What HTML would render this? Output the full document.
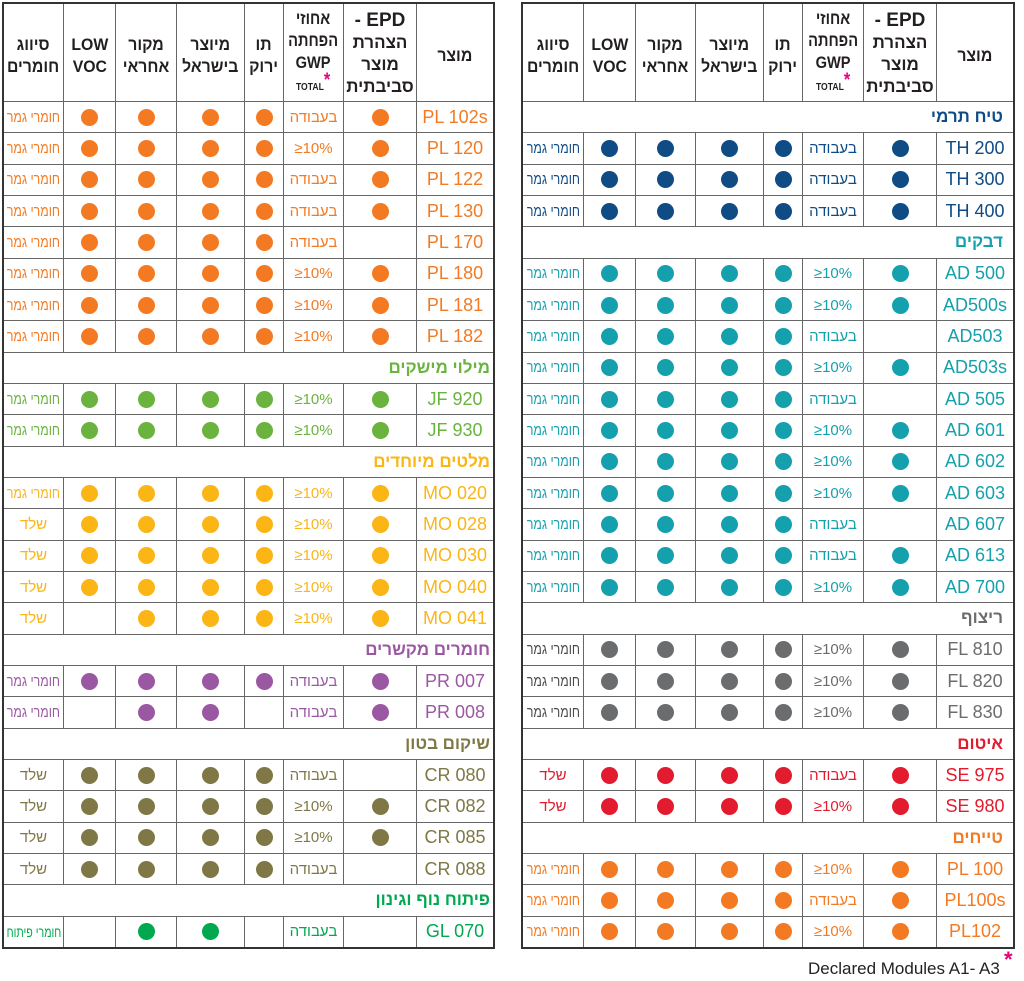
<!DOCTYPE html>
<html lang="he">
<head>
<meta charset="utf-8">
<style>
html,body{margin:0;padding:0}
body{width:1024px;height:981px;background:#fff;position:relative;overflow:hidden;font-family:"Liberation Sans","DejaVu Sans",sans-serif;}
.tb{position:absolute;top:2px;height:947px;box-sizing:border-box;border:2px solid #333;background:#666;display:grid;gap:1px;direction:rtl;grid-template-rows:97px repeat(27,1fr);}
#L{left:2px;width:493px;grid-template-columns:76px 72px 59px 38px 67px 60px 51px 59px;}
#R{left:521px;width:494px;grid-template-columns:76px 72px 60px 38px 67px 59px 51px 60px;}
.tb div{background:#fff;display:flex;align-items:center;justify-content:center;text-align:center;white-space:nowrap;overflow:hidden;}
.tb .g{display:contents}
.h{font-weight:bold;font-size:17px;line-height:22px;color:#231f20;}
.h>span{display:inline-block;transform:scaleX(.93);position:relative;top:3px}
.h.gwp>span{transform:scaleX(.86);top:1px}
.h.ep>span{transform:none;top:1px}
.epd{font-size:19px}
.tot{font-size:10px;font-weight:bold}
.ast{color:#e5007d;font-size:19px;position:relative;top:-4px;line-height:0}
.pn{font-size:18px}
.gw{font-size:15px}
.ltr{direction:ltr}
.cl{font-size:15px}
.cl>span{display:inline-block;transform:scaleX(.82)}
.cl.pt>span{font-size:14px;transform:scaleX(.76)}
.sh{font-size:15px}
.tb .cat{grid-column:1/-1;justify-content:flex-start;font-weight:bold;font-size:17px;padding-right:3px}
#R .cat{padding-right:10px}
i{display:block;width:17px;height:17px;border-radius:50%;background:currentColor}
.o{color:#f37a22}
.lg{color:#6ab33e}
.y{color:#fbb515}
.p{color:#9b58a2}
.ol{color:#7f7745}
.gn{color:#00a84f}
.nv{color:#0f4b84}
.t{color:#15a0ad}
.gr{color:#6b6c6e}
.r{color:#e21b2e}
.gr .cl{color:#4a4a4a}
.ft{position:absolute;left:808px;top:960px;font-size:17px;line-height:17px;color:#222;white-space:nowrap}
.fa{position:absolute;left:1004px;top:949px;font-size:22px;font-weight:bold;color:#e5007d;line-height:22px}
</style>
</head>
<body>

<div class="tb" id="L">
<div class="h"><span>מוצר</span></div>
<div class="h ep"><span><span class="epd">EPD -</span><br>הצהרת<br>מוצר<br>סביבתית</span></div>
<div class="h gwp"><span>אחוזי<br>הפחתה<br>GWP<br><span dir="ltr"><span class="tot">TOTAL</span><span class="ast">*</span></span></span></div>
<div class="h"><span>תו<br>ירוק</span></div>
<div class="h"><span>מיוצר<br>בישראל</span></div>
<div class="h"><span>מקור<br>אחראי</span></div>
<div class="h"><span>LOW<br>VOC</span></div>
<div class="h"><span>סיווג<br>חומרים</span></div>

<div class="g o">
<div class="pn">PL 102s</div><div><i></i></div><div class="gw">בעבודה</div><div><i></i></div><div><i></i></div><div><i></i></div><div><i></i></div><div class="cl"><span>חומרי גמר</span></div>
<div class="pn">PL 120</div><div><i></i></div><div class="gw ltr">≥10%</div><div><i></i></div><div><i></i></div><div><i></i></div><div><i></i></div><div class="cl"><span>חומרי גמר</span></div>
<div class="pn">PL 122</div><div><i></i></div><div class="gw">בעבודה</div><div><i></i></div><div><i></i></div><div><i></i></div><div><i></i></div><div class="cl"><span>חומרי גמר</span></div>
<div class="pn">PL 130</div><div><i></i></div><div class="gw">בעבודה</div><div><i></i></div><div><i></i></div><div><i></i></div><div><i></i></div><div class="cl"><span>חומרי גמר</span></div>
<div class="pn">PL 170</div><div></div><div class="gw">בעבודה</div><div><i></i></div><div><i></i></div><div><i></i></div><div><i></i></div><div class="cl"><span>חומרי גמר</span></div>
<div class="pn">PL 180</div><div><i></i></div><div class="gw ltr">≥10%</div><div><i></i></div><div><i></i></div><div><i></i></div><div><i></i></div><div class="cl"><span>חומרי גמר</span></div>
<div class="pn">PL 181</div><div><i></i></div><div class="gw ltr">≥10%</div><div><i></i></div><div><i></i></div><div><i></i></div><div><i></i></div><div class="cl"><span>חומרי גמר</span></div>
<div class="pn">PL 182</div><div><i></i></div><div class="gw ltr">≥10%</div><div><i></i></div><div><i></i></div><div><i></i></div><div><i></i></div><div class="cl"><span>חומרי גמר</span></div>
</div>

<div class="g lg">
<div class="cat">מילוי מישקים</div>
<div class="pn">JF 920</div><div><i></i></div><div class="gw ltr">≥10%</div><div><i></i></div><div><i></i></div><div><i></i></div><div><i></i></div><div class="cl"><span>חומרי גמר</span></div>
<div class="pn">JF 930</div><div><i></i></div><div class="gw ltr">≥10%</div><div><i></i></div><div><i></i></div><div><i></i></div><div><i></i></div><div class="cl"><span>חומרי גמר</span></div>
</div>

<div class="g y">
<div class="cat">מלטים מיוחדים</div>
<div class="pn">MO 020</div><div><i></i></div><div class="gw ltr">≥10%</div><div><i></i></div><div><i></i></div><div><i></i></div><div><i></i></div><div class="cl"><span>חומרי גמר</span></div>
<div class="pn">MO 028</div><div><i></i></div><div class="gw ltr">≥10%</div><div><i></i></div><div><i></i></div><div><i></i></div><div><i></i></div><div class="sh">שלד</div>
<div class="pn">MO 030</div><div><i></i></div><div class="gw ltr">≥10%</div><div><i></i></div><div><i></i></div><div><i></i></div><div><i></i></div><div class="sh">שלד</div>
<div class="pn">MO 040</div><div><i></i></div><div class="gw ltr">≥10%</div><div><i></i></div><div><i></i></div><div><i></i></div><div><i></i></div><div class="sh">שלד</div>
<div class="pn">MO 041</div><div><i></i></div><div class="gw ltr">≥10%</div><div><i></i></div><div><i></i></div><div><i></i></div><div></div><div class="sh">שלד</div>
</div>

<div class="g p">
<div class="cat">חומרים מקשרים</div>
<div class="pn">PR 007</div><div><i></i></div><div class="gw">בעבודה</div><div><i></i></div><div><i></i></div><div><i></i></div><div><i></i></div><div class="cl"><span>חומרי גמר</span></div>
<div class="pn">PR 008</div><div><i></i></div><div class="gw">בעבודה</div><div></div><div><i></i></div><div><i></i></div><div></div><div class="cl"><span>חומרי גמר</span></div>
</div>

<div class="g ol">
<div class="cat">שיקום בטון</div>
<div class="pn">CR 080</div><div></div><div class="gw">בעבודה</div><div><i></i></div><div><i></i></div><div><i></i></div><div><i></i></div><div class="sh">שלד</div>
<div class="pn">CR 082</div><div><i></i></div><div class="gw ltr">≥10%</div><div><i></i></div><div><i></i></div><div><i></i></div><div><i></i></div><div class="sh">שלד</div>
<div class="pn">CR 085</div><div><i></i></div><div class="gw ltr">≥10%</div><div><i></i></div><div><i></i></div><div><i></i></div><div><i></i></div><div class="sh">שלד</div>
<div class="pn">CR 088</div><div></div><div class="gw">בעבודה</div><div><i></i></div><div><i></i></div><div><i></i></div><div><i></i></div><div class="sh">שלד</div>
</div>

<div class="g gn">
<div class="cat">פיתוח נוף וגינון</div>
<div class="pn">GL 070</div><div></div><div class="gw">בעבודה</div><div></div><div><i></i></div><div><i></i></div><div></div><div class="cl pt"><span>חומרי פיתוח</span></div>
</div>
</div>

<div class="tb" id="R">
<div class="h"><span>מוצר</span></div>
<div class="h ep"><span><span class="epd">EPD -</span><br>הצהרת<br>מוצר<br>סביבתית</span></div>
<div class="h gwp"><span>אחוזי<br>הפחתה<br>GWP<br><span dir="ltr"><span class="tot">TOTAL</span><span class="ast">*</span></span></span></div>
<div class="h"><span>תו<br>ירוק</span></div>
<div class="h"><span>מיוצר<br>בישראל</span></div>
<div class="h"><span>מקור<br>אחראי</span></div>
<div class="h"><span>LOW<br>VOC</span></div>
<div class="h"><span>סיווג<br>חומרים</span></div>

<div class="g nv">
<div class="cat">טיח תרמי</div>
<div class="pn">TH 200</div><div><i></i></div><div class="gw">בעבודה</div><div><i></i></div><div><i></i></div><div><i></i></div><div><i></i></div><div class="cl"><span>חומרי גמר</span></div>
<div class="pn">TH 300</div><div><i></i></div><div class="gw">בעבודה</div><div><i></i></div><div><i></i></div><div><i></i></div><div><i></i></div><div class="cl"><span>חומרי גמר</span></div>
<div class="pn">TH 400</div><div><i></i></div><div class="gw">בעבודה</div><div><i></i></div><div><i></i></div><div><i></i></div><div><i></i></div><div class="cl"><span>חומרי גמר</span></div>
</div>

<div class="g t">
<div class="cat">דבקים</div>
<div class="pn">AD 500</div><div><i></i></div><div class="gw ltr">≥10%</div><div><i></i></div><div><i></i></div><div><i></i></div><div><i></i></div><div class="cl"><span>חומרי גמר</span></div>
<div class="pn">AD500s</div><div><i></i></div><div class="gw ltr">≥10%</div><div><i></i></div><div><i></i></div><div><i></i></div><div><i></i></div><div class="cl"><span>חומרי גמר</span></div>
<div class="pn">AD503</div><div></div><div class="gw">בעבודה</div><div><i></i></div><div><i></i></div><div><i></i></div><div><i></i></div><div class="cl"><span>חומרי גמר</span></div>
<div class="pn">AD503s</div><div><i></i></div><div class="gw ltr">≥10%</div><div><i></i></div><div><i></i></div><div><i></i></div><div><i></i></div><div class="cl"><span>חומרי גמר</span></div>
<div class="pn">AD 505</div><div></div><div class="gw">בעבודה</div><div><i></i></div><div><i></i></div><div><i></i></div><div><i></i></div><div class="cl"><span>חומרי גמר</span></div>
<div class="pn">AD 601</div><div><i></i></div><div class="gw ltr">≥10%</div><div><i></i></div><div><i></i></div><div><i></i></div><div><i></i></div><div class="cl"><span>חומרי גמר</span></div>
<div class="pn">AD 602</div><div><i></i></div><div class="gw ltr">≥10%</div><div><i></i></div><div><i></i></div><div><i></i></div><div><i></i></div><div class="cl"><span>חומרי גמר</span></div>
<div class="pn">AD 603</div><div><i></i></div><div class="gw ltr">≥10%</div><div><i></i></div><div><i></i></div><div><i></i></div><div><i></i></div><div class="cl"><span>חומרי גמר</span></div>
<div class="pn">AD 607</div><div></div><div class="gw">בעבודה</div><div><i></i></div><div><i></i></div><div><i></i></div><div><i></i></div><div class="cl"><span>חומרי גמר</span></div>
<div class="pn">AD 613</div><div><i></i></div><div class="gw">בעבודה</div><div><i></i></div><div><i></i></div><div><i></i></div><div><i></i></div><div class="cl"><span>חומרי גמר</span></div>
<div class="pn">AD 700</div><div><i></i></div><div class="gw ltr">≥10%</div><div><i></i></div><div><i></i></div><div><i></i></div><div><i></i></div><div class="cl"><span>חומרי גמר</span></div>
</div>

<div class="g gr">
<div class="cat">ריצוף</div>
<div class="pn">FL 810</div><div><i></i></div><div class="gw ltr">≥10%</div><div><i></i></div><div><i></i></div><div><i></i></div><div><i></i></div><div class="cl"><span>חומרי גמר</span></div>
<div class="pn">FL 820</div><div><i></i></div><div class="gw ltr">≥10%</div><div><i></i></div><div><i></i></div><div><i></i></div><div><i></i></div><div class="cl"><span>חומרי גמר</span></div>
<div class="pn">FL 830</div><div><i></i></div><div class="gw ltr">≥10%</div><div><i></i></div><div><i></i></div><div><i></i></div><div><i></i></div><div class="cl"><span>חומרי גמר</span></div>
</div>

<div class="g r">
<div class="cat">איטום</div>
<div class="pn">SE 975</div><div><i></i></div><div class="gw">בעבודה</div><div><i></i></div><div><i></i></div><div><i></i></div><div><i></i></div><div class="sh">שלד</div>
<div class="pn">SE 980</div><div><i></i></div><div class="gw ltr">≥10%</div><div><i></i></div><div><i></i></div><div><i></i></div><div><i></i></div><div class="sh">שלד</div>
</div>

<div class="g o">
<div class="cat">טייחים</div>
<div class="pn">PL 100</div><div><i></i></div><div class="gw ltr">≥10%</div><div><i></i></div><div><i></i></div><div><i></i></div><div><i></i></div><div class="cl"><span>חומרי גמר</span></div>
<div class="pn">PL100s</div><div><i></i></div><div class="gw">בעבודה</div><div><i></i></div><div><i></i></div><div><i></i></div><div><i></i></div><div class="cl"><span>חומרי גמר</span></div>
<div class="pn">PL102</div><div><i></i></div><div class="gw ltr">≥10%</div><div><i></i></div><div><i></i></div><div><i></i></div><div><i></i></div><div class="cl"><span>חומרי גמר</span></div>
</div>
</div>

<div class="ft">Declared Modules A1- A3</div>
<div class="fa">*</div>

</body>
</html>
